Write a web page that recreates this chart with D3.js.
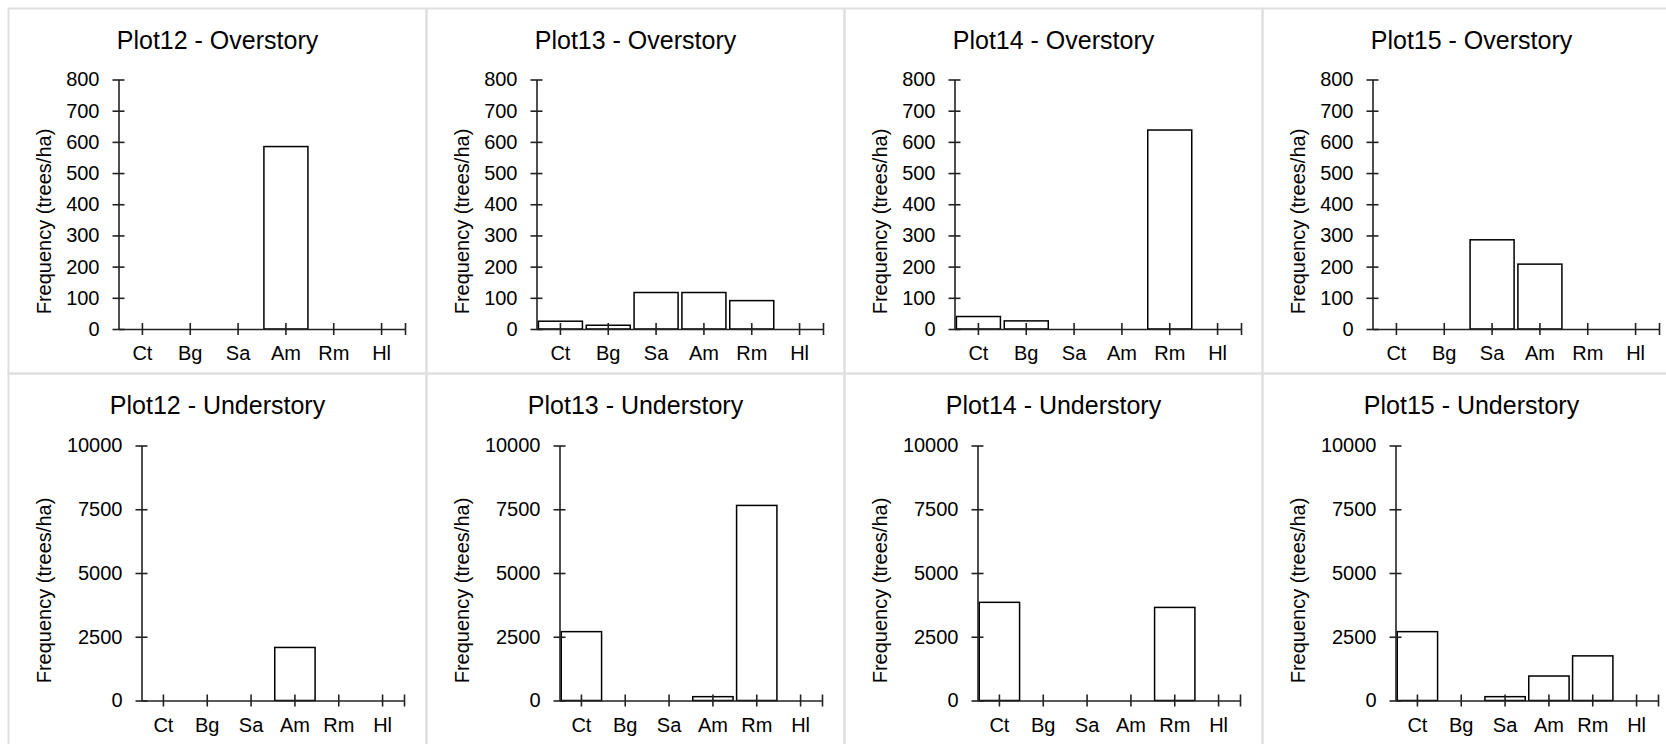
<!DOCTYPE html>
<html>
<head>
<meta charset="utf-8">
<script src="https://cdn.jsdelivr.net/npm/d3@7"></script>
<style>
  body { margin: 0; background: #fff; }
  text { font-family: "Liberation Sans", Arial, sans-serif; fill: #000; }
</style>
</head>
<body>
<div id="chart"></div>
<script>
// species on the x axis
var species = ["Ct", "Bg", "Sa", "Am", "Rm", "Hl"];
var plotNames = ["Plot12", "Plot13", "Plot14", "Plot15"];

// frequency (trees/ha), overstory
var plot12Over = [0, 0, 0, 585, 0, 0];
var plot13Over = [25, 12, 117, 117, 91, 0];
var plot14Over = [40, 26, 0, 0, 638, 0];
var plot15Over = [0, 0, 286, 208, 0, 0];

// frequency (trees/ha), understory
var plot12Under = [0, 0, 0, 2080, 0, 0];
var plot13Under = [2700, 0, 0, 150, 7650, 0];
var plot14Under = [3850, 0, 0, 0, 3650, 0];
var plot15Under = [2700, 0, 150, 960, 1750, 0];

var overTicks = [0, 100, 200, 300, 400, 500, 600, 700, 800];
var underTicks = [0, 2500, 5000, 7500, 10000];

var W = 1666, H = 744;
var cellW = 418, cellH = 365, gridX = 8.5, gridY = 8.5;

var svg = d3.select("#chart").append("svg")
  .attr("width", W)
  .attr("height", H);

// layout of each row inside its cell
var rows = [
  { name: "Overstory", data: [plot12Over, plot13Over, plot14Over, plot15Over], ticks: overTicks, max: 800,
    x0: 110, x1: 397, yTop: 71, yZero: 320.5, pad: 11, labelY: 213 },
  { name: "Understory", data: [plot12Under, plot13Under, plot14Under, plot15Under], ticks: underTicks, max: 10000,
    x0: 133, x1: 396, yTop: 72, yZero: 327, pad: 11.5, labelY: 217 }
];

rows.forEach(function(row, r) {
  plotNames.forEach(function(plot, c) {
    var g = svg.append("g")
      .attr("transform", "translate(" + (gridX + c * cellW) + "," + (gridY + r * cellH) + ")");

    // cell border
    g.append("rect")
      .attr("width", cellW)
      .attr("height", r == 0 ? cellH : cellH + 60)
      .attr("fill", "none")
      .attr("stroke", "#e0e0e0")
      .attr("stroke-width", 2);

    var x = d3.scaleBand()
      .domain(species)
      .range([row.x0, row.x1])
      .paddingInner(0.08)
      .paddingOuter(0.04);

    var y = d3.scaleLinear()
      .domain([0, row.max])
      .range([row.yZero, row.yTop]);

    // title
    g.append("text")
      .attr("x", cellW / 2)
      .attr("y", 40)
      .attr("text-anchor", "middle")
      .style("font-size", "25px")
      .text(plot + " - " + row.name);

    // bars
    var vals = species.map(function(s, i) { return { sp: s, v: row.data[c][i] }; })
      .filter(function(d) { return d.v > 0; });
    g.selectAll("rect.bar")
      .data(vals)
      .enter()
      .append("rect")
        .attr("class", "bar")
        .attr("x", function(d) { return x(d.sp); })
        .attr("width", x.bandwidth())
        .attr("y", function(d) { return y(d.v); })
        .attr("height", function(d) { return y(0) - y(d.v); })
        .attr("fill", "#fff")
        .attr("stroke", "#000")
        .attr("stroke-width", 1.5);

    // y axis
    var ya = g.append("g")
      .attr("transform", "translate(" + row.x0 + ",0)")
      .call(d3.axisLeft(y).tickValues(row.ticks).tickFormat(d3.format("d"))
        .tickSize(6).tickSizeOuter(0).tickPadding(13));
    ya.selectAll(".tick line").attr("x1", -6).attr("x2", 6);
    ya.selectAll(".tick text").style("font-size", "20px");

    // x axis
    var xa = g.append("g")
      .attr("transform", "translate(0," + row.yZero + ")")
      .call(d3.axisBottom(x).tickSize(6).tickSizeOuter(0).tickPadding(row.pad));
    xa.selectAll(".tick line").attr("y1", -6).attr("y2", 6);
    xa.selectAll(".tick text").style("font-size", "20px");
    xa.append("line")
      .attr("x1", row.x1).attr("x2", row.x1)
      .attr("y1", -6).attr("y2", 6)
      .attr("stroke", "currentColor");

    [ya, xa].forEach(function(a) {
      a.selectAll("path, line").attr("stroke", "#222").attr("stroke-width", 1.6);
      a.selectAll("text").style("fill", "#000");
    });

    // y axis title
    g.append("text")
      .attr("transform", "translate(35," + row.labelY + ") rotate(-90)")
      .attr("text-anchor", "middle")
      .attr("dy", "0.35em")
      .style("font-size", "20px")
      .text("Frequency (trees/ha)");
  });
});
</script>
</body>
</html>
